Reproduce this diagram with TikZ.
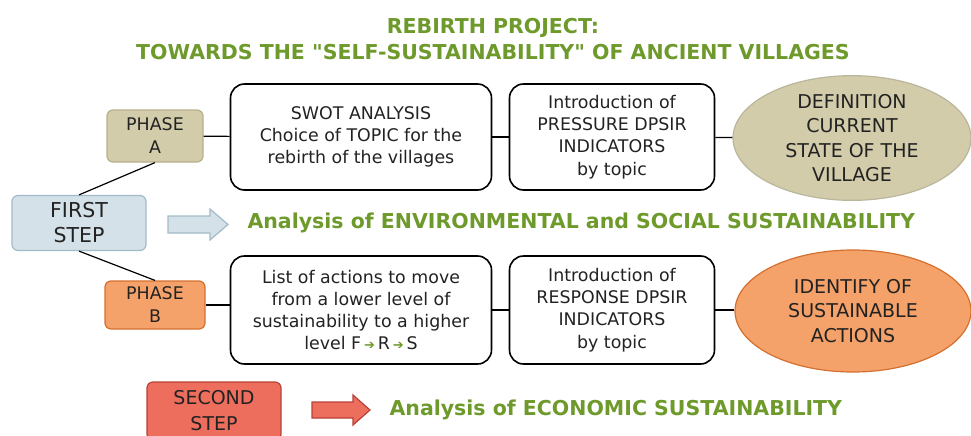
\documentclass[tikz,border=0pt]{standalone}
\usepackage{fontspec}
\setmainfont{DejaVu Sans}[Ligatures=TeXOff]
\newfontfamily\symfont{DejaVu Sans}
\usetikzlibrary{shapes.geometric}
\definecolor{titlegreen}{HTML}{6E9A2C}
\definecolor{phaseAfill}{HTML}{D2CCAB}
\definecolor{phaseAline}{HTML}{B8B08A}
\definecolor{firstfill}{HTML}{D4E1E9}
\definecolor{firstline}{HTML}{A3BBC8}
\definecolor{phaseBfill}{HTML}{F4A26A}
\definecolor{phaseBline}{HTML}{D4702F}
\definecolor{secondfill}{HTML}{EE6E5E}
\definecolor{secondline}{HTML}{B8413A}
\definecolor{inkgray}{HTML}{222222}
\newcommand{\farrow}{\,{\color{titlegreen}\symfont\fontsize{13}{13}\selectfont\char"2794}\,}

\begin{document}
\begin{tikzpicture}[x=1pt,y=-1pt,
		stepbox/.style={rounded corners=6pt, line width=1.2pt, align=center, inner sep=0pt,
			text=inkgray, font=\fontsize{17.4}{23}\selectfont},
		textbox/.style={draw=black, line width=1.6pt, rounded corners=14pt, align=center,
			inner sep=0pt, text=inkgray, font=\fontsize{17.4}{22.3}\selectfont},
		goalshape/.style={ellipse, line width=1.2pt, align=center, inner sep=0pt,
			text=inkgray, font=\fontsize{19}{24.6}\selectfont},
		headline/.style={text=titlegreen, font=\bfseries\fontsize{20.5}{26}\selectfont, align=center},
		link/.style={line width=1.2pt}]
		\useasboundingbox (0,0) rectangle (971,436);
		% title
		\node[headline] (title) at (493,39) {REBIRTH PROJECT:\\TOWARDS THE "SELF-SUSTAINABILITY" OF ANCIENT VILLAGES};
		% first step
		\node[stepbox, fill=firstfill, draw=firstline, minimum width=134pt, minimum height=55pt,
			font=\fontsize{20.5}{25}\selectfont] (first) at (79,223) {FIRST\\STEP};
		\node[stepbox, fill=phaseAfill, draw=phaseAline, minimum width=96pt, minimum height=52pt] (phaseA) at (155,136) {PHASE\\A};
		\node[stepbox, fill=phaseBfill, draw=phaseBline, minimum width=100pt, minimum height=48pt] (phaseB) at (155,305) {PHASE\\B};
		\node[textbox, minimum width=261pt, minimum height=106pt] (swot) at (361,137) {SWOT ANALYSIS\\Choice of TOPIC for the\\rebirth of the villages};
		\node[textbox, minimum width=205pt, minimum height=106pt] (pressure) at (612,137) {Introduction of\\PRESSURE DPSIR\\INDICATORS\\by topic};
		\node[goalshape, fill=phaseAfill, draw=phaseAfill!85!black!90, minimum width=238pt, minimum height=120pt] (state) at (852,138) {DEFINITION\\CURRENT\\STATE OF THE\\VILLAGE};
		\node[textbox, minimum width=261pt, minimum height=108pt] (actions) at (361,310) {List of actions to move\\from a lower level of\\sustainability to a higher\\level F\farrow R\farrow S};
		\node[textbox, minimum width=205pt, minimum height=108pt] (response) at (612,310) {Introduction of\\RESPONSE DPSIR\\INDICATORS\\by topic};
		\node[goalshape, fill=phaseBfill, draw=phaseBline, minimum width=236pt, minimum height=122pt] (sustain) at (853,311) {IDENTIFY OF\\SUSTAINABLE\\ACTIONS};
		\draw[link] (first.north) -- (phaseA.south);
		\draw[link] (first.south) -- (phaseB.north);
		\draw[link] (phaseA) -- (swot);
		\draw[link] (swot) -- (pressure);
		\draw[link] (pressure) -- (state);
		\draw[link] (phaseB.east) -- (phaseB.east -| actions.west);
		\draw[link] (actions.east |- response.west) -- (response.west);
		\draw[link] (response.east) -- (response.east -| sustain.west);
		\filldraw[fill=firstfill, draw=firstline, line width=1.2pt] (168,216) -- (210,216) -- (210,209) -- (228,224.5) -- (210,240) -- (210,233) -- (168,233) -- cycle;
		\node[headline, anchor=west] (envtext) at (244,223) {Analysis of ENVIRONMENTAL and SOCIAL SUSTAINABILITY};
		% second step
		\node[stepbox, fill=secondfill, draw=secondline, minimum width=134pt, minimum height=58pt,
			font=\fontsize{19}{26}\selectfont] (second) at (214,411) {SECOND\\STEP};
		\filldraw[fill=secondfill, draw=secondline, line width=1.2pt] (312,402) -- (353,402) -- (353,395) -- (370,410) -- (353,425) -- (353,418) -- (312,418) -- cycle;
		\node[headline, anchor=west] (ecotext) at (386,410) {Analysis of ECONOMIC SUSTAINABILITY};
	\end{tikzpicture}
\end{document}
